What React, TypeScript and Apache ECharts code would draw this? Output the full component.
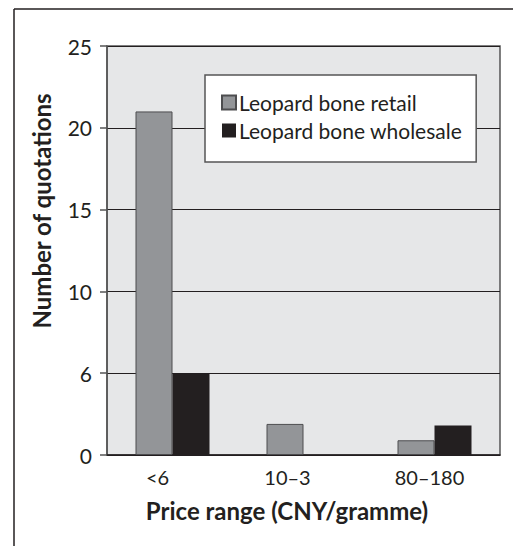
import React, { useEffect, useRef } from "react";
import * as echarts from "echarts";

const categories = ["<6", "10–3", "80–180"];
const retailValues = [21, 1.9, 0.9];
const wholesaleValues = [5, 0, 1.8];
const yTickValues = [0, 5, 10, 15, 20, 25];
const yTickLabels = ["0", "6", "10", "15", "20", "25"];
const seriesNames = ["Leopard bone retail", "Leopard bone wholesale"];
const xTitle = "Price range (CNY/gramme)";
const yTitle = "Number of quotations";

const FONT = "Lato, 'Open Sans', sans-serif";

export default function App() {
  const ref = useRef<HTMLDivElement>(null);
  useEffect(() => {
    if (!ref.current) return;
    const chart = echarts.init(ref.current, null, { renderer: "svg" });
    const richKeys = ["a", "b", "c"];
    chart.setOption({
      animation: false,
      backgroundColor: "#ffffff",
      textStyle: { fontFamily: FONT },
      grid: { left: 107, top: 46, right: 13, bottom: 91, containLabel: false, show: true, backgroundColor: "#e6e7e8", borderColor: "#555555", borderWidth: 1.5 },
      legend: {
        orient: "vertical",
        left: 205,
        top: 75,
        backgroundColor: "#ffffff",
        borderColor: "#555555",
        borderWidth: 1.5,
        padding: [17, 14, 21, 16],
        itemWidth: 14,
        itemHeight: 14,
        itemGap: 7,
        icon: "rect",
        textStyle: { fontFamily: FONT, fontSize: 21, color: "#231f20", padding: [0, 0, 0, -2] },
        data: seriesNames,
      },
      xAxis: {
        type: "category",
        data: categories,
        axisLine: { lineStyle: { color: "#231f20", width: 1.5 } },
        axisTick: { show: false },
        axisLabel: {
          fontFamily: FONT,
          fontSize: 20,
          color: "#231f20",
          margin: 12,
          formatter: (v: string) => {
            const i = categories.indexOf(v);
            return "{" + richKeys[i] + "|" + v + "}";
          },
          rich: {
            a: { fontFamily: FONT, fontSize: 20, color: "#231f20", padding: [0, 30, 0, 0] },
            b: { fontFamily: FONT, fontSize: 20, color: "#231f20", padding: [0, 32, 0, 0] },
            c: { fontFamily: FONT, fontSize: 20, color: "#231f20", padding: [0, 10, 0, 0] },
          },
        },
        name: xTitle,
        nameLocation: "middle",
        nameGap: 43,
        nameTextStyle: { fontFamily: FONT, fontSize: 24, fontWeight: "bold", color: "#231f20", padding: [0, 33, 0, 0] },
      },
      yAxis: {
        type: "value",
        min: 0,
        max: 25,
        interval: 5,
        axisLine: { show: true, lineStyle: { color: "#555555", width: 1.5 } },
        axisTick: { show: true, length: 7, lineStyle: { color: "#555555", width: 1.5 } },
        splitLine: { show: true, lineStyle: { color: "#231f20", width: 1 } },
        axisLabel: {
          fontFamily: FONT,
          fontSize: 21,
          color: "#231f20",
          margin: 15,
          formatter: (v: number) => {
            const i = yTickValues.indexOf(v);
            return i >= 0 ? yTickLabels[i] : "";
          },
        },
      },
      graphic: [
        { type: "line", shape: { x1: 14, y1: 9, x2: 513, y2: 9 }, style: { stroke: "#231f20", lineWidth: 1.5 } },
        { type: "line", shape: { x1: 14, y1: 9, x2: 14, y2: 546 }, style: { stroke: "#231f20", lineWidth: 1.5 } },
        {
          type: "text",
          x: 41,
          y: 211,
          rotation: Math.PI / 2,
          style: { text: yTitle, fontFamily: FONT, fontSize: 24, fontWeight: "bold", fill: "#231f20", align: "center", verticalAlign: "middle" },
        },
      ],
      series: [
        {
          name: seriesNames[0],
          type: "bar",
          data: retailValues,
          barWidth: 37,
          barGap: "0%",
          itemStyle: { color: "#939598", borderColor: "#4d4d4f", borderWidth: 1 },
        },
        {
          name: seriesNames[1],
          type: "bar",
          data: wholesaleValues,
          barWidth: 37,
          barGap: "0%",
          itemStyle: { color: "#231f20", borderWidth: 0 },
        },
      ],
    });
    return () => chart.dispose();
  }, []);
  return <div ref={ref} style={{ width: 513, height: 546, position: "absolute", left: 0, top: 0 }} />;
}
